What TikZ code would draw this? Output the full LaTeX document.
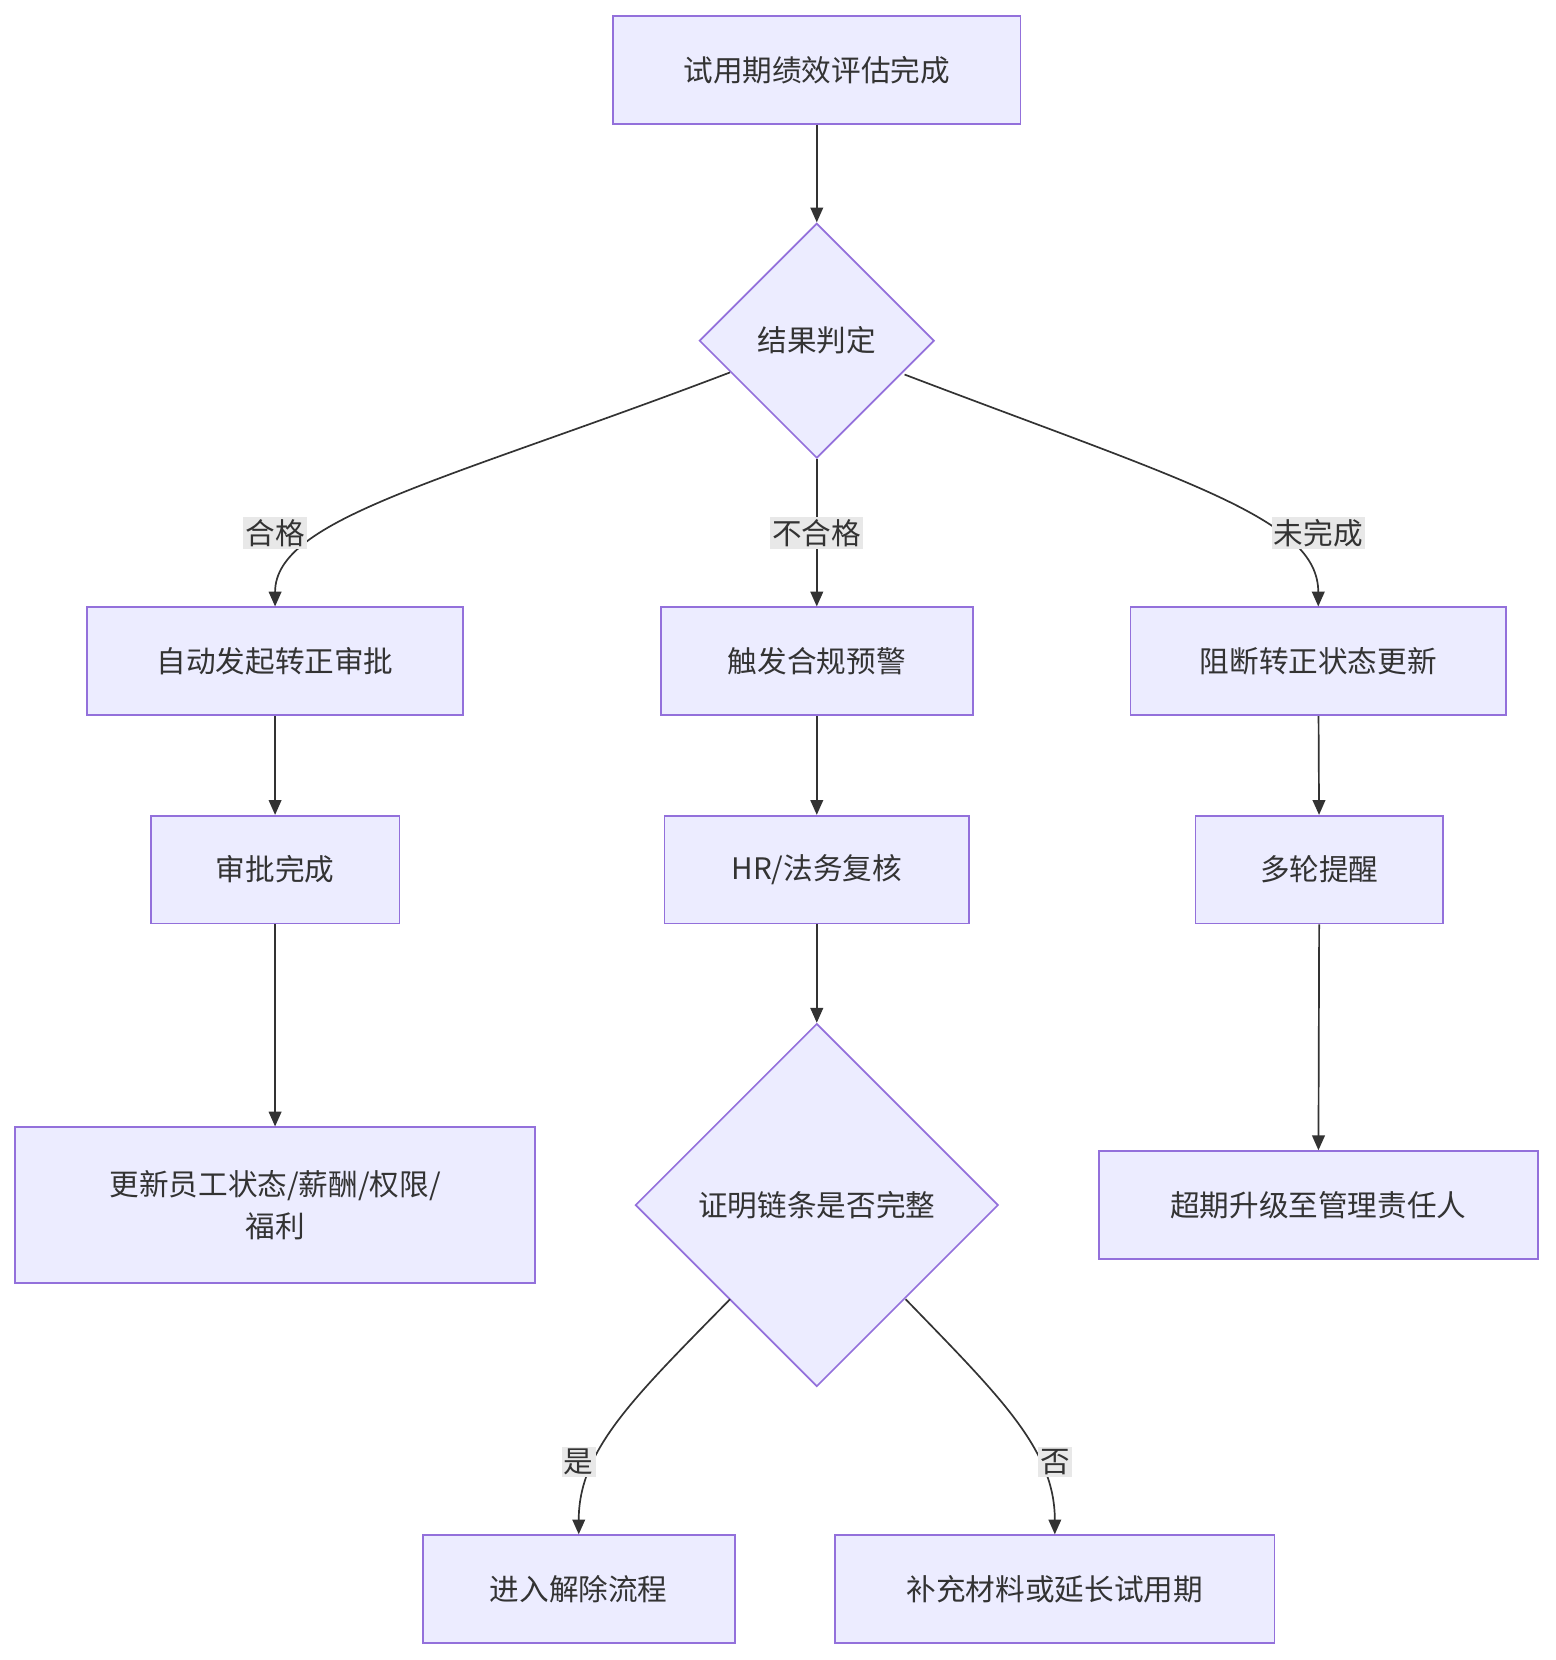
\documentclass[tikz,border=0pt]{standalone}
\usepackage{fontspec}
\setmainfont{Noto Sans CJK SC}
\usetikzlibrary{shapes.geometric,arrows.meta}
\definecolor{nfill}{HTML}{ECECFF}
\definecolor{nline}{HTML}{9370DB}
\definecolor{eline}{HTML}{333333}
\definecolor{lbg}{HTML}{E8E8E8}
\begin{document}
\begin{tikzpicture}[x=0.5pt,y=-0.5pt,
  box/.style={draw=nline,fill=nfill,line width=0.8pt,minimum height=51pt,inner sep=0pt,font=\fontsize{14}{20}\selectfont,text=eline,align=center},
  dia/.style={draw=nline,fill=nfill,line width=0.8pt,diamond,inner sep=0pt,font=\fontsize{14}{20}\selectfont,text=eline},
  arr/.style={draw=eline,line width=0.8pt,-{Triangle[length=7pt,width=6pt]}},
  lab/.style={fill=lbg,inner sep=1pt,font=\fontsize{14}{18}\selectfont,text=eline}]
\useasboundingbox (0,0) rectangle (1470,1569);
\node[box,minimum width=192.5pt] (a) at (772,66) {试用期绩效评估完成};
\node[dia,minimum width=111pt,minimum height=111pt] (d1) at (772,322) {结果判定};
\node[box,minimum width=177.5pt] (b1) at (260,625) {自动发起转正审批};
\node[box,minimum width=147.5pt] (c1) at (772,625) {触发合规预警};
\node[box,minimum width=177.5pt] (e1) at (1246,625) {阻断转正状态更新};
\node[box,minimum width=117.5pt] (b2) at (260,822) {审批完成};
\node[box,minimum width=144pt] (c2) at (772,822) {HR/法务复核};
\node[box,minimum width=117pt] (e2) at (1247,822) {多轮提醒};
\node[box,minimum width=245.5pt,minimum height=73.5pt] (b3) at (260,1139) {更新员工状态/薪酬/权限/\\福利};
\node[dia,minimum width=171.5pt,minimum height=171.5pt] (d2) at (772,1139) {证明链条是否完整};
\node[box,minimum width=207.5pt] (e3) at (1246,1139) {超期升级至管理责任人};
\node[box,minimum width=147.5pt] (f1) at (547,1502) {进入解除流程};
\node[box,minimum width=207.5pt] (f2) at (997,1502) {补充材料或延长试用期};
\coordinate (p1) at (690,352);
\coordinate (p2) at (855,354);
\coordinate (q1) at (690,1228);
\coordinate (q2) at (856,1228);
\draw[arr] (a) -- (d1);
\draw[arr] (p1) .. controls (420,455) and (260,490) .. (b1.north);
\draw[arr] (d1.south) -- (c1.north);
\draw[arr] (p2) .. controls (1120,455) and (1246,490) .. (e1.north);
\draw[arr] (b1) -- (b2);
\draw[arr] (b2) -- (b3);
\draw[arr] (c1) -- (c2);
\draw[arr] (c2) -- (d2.north);
\draw[arr] (e1) -- (e2);
\draw[arr] (e2) -- (e3);
\draw[arr] (q1) .. controls (600,1320) and (547,1370) .. (f1.north);
\draw[arr] (q2) .. controls (945,1320) and (997,1370) .. (f2.north);
\node[lab] (l1) at (260,504) {合格};
\node[lab] (l2) at (772,504) {不合格};
\node[lab] (l3) at (1246,504) {未完成};
\node[lab] (l4) at (547,1382) {是};
\node[lab] (l5) at (997,1382) {否};
\end{tikzpicture}
\end{document}
